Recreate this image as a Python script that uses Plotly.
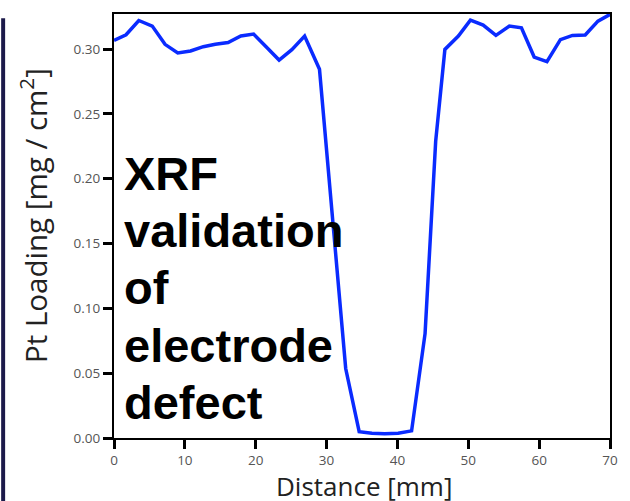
import plotly.graph_objects as go

distance_mm = [0.0, 1.7, 3.5, 5.4, 7.2, 9.0, 10.8, 12.6, 14.3, 16.1, 17.9, 19.7,
               21.5, 23.3, 25.1, 26.9, 29.0, 32.7, 34.6, 36.4, 38.2, 40.1, 42.0,
               43.9, 45.4, 46.7, 48.6, 50.3, 52.1, 53.9, 55.8, 57.5, 59.3, 61.1,
               63.0, 64.7, 66.5, 68.3, 70.0]
pt_loading = [0.3067, 0.311, 0.322, 0.3177, 0.3036, 0.297, 0.2985, 0.3018, 0.3036,
              0.305, 0.310, 0.3115, 0.3015, 0.2915, 0.2995, 0.310, 0.2844, 0.0536,
              0.0049, 0.0036, 0.0032, 0.0036, 0.0055, 0.0805, 0.229, 0.2997, 0.310,
              0.3223, 0.3185, 0.3105, 0.3177, 0.3164, 0.2938, 0.2903, 0.3072, 0.3105,
              0.3108, 0.3215, 0.3267]

x_ticks = [0, 10, 20, 30, 40, 50, 60, 70]
y_ticks = [0.00, 0.05, 0.10, 0.15, 0.20, 0.25, 0.30]
y_tick_text = ["0.00", "0.05", "0.10", "0.15", "0.20", "0.25", "0.30"]

note_lines = ["XRF", "validation", "of", "electrode", "defect"]
note_line_y = [0.2042, 0.1600, 0.1158, 0.0717, 0.0275]

fig = go.Figure()
fig.add_trace(go.Scatter(x=distance_mm, y=pt_loading, mode="lines",
                         line=dict(color="#0a2bff", width=3.5), showlegend=False))

axis_common = dict(showgrid=False, zeroline=False, showline=True, linecolor="black",
                   linewidth=2, mirror=True, ticks="outside", ticklen=9, tickwidth=2.5,
                   tickcolor="black",
                   tickfont=dict(family="Open Sans", size=13.5, color="#555555"))

fig.update_xaxes(range=[0, 70], tickvals=x_ticks, **axis_common)
fig.update_yaxes(range=[0, 0.327], tickvals=y_ticks, ticktext=y_tick_text, **axis_common)

for line_text, line_y in zip(note_lines, note_line_y):
    fig.add_annotation(text=line_text, xref="paper", yref="y", x=0.016, y=line_y,
                       xanchor="left", yanchor="middle", align="left", showarrow=False,
                       font=dict(family="Liberation Sans", size=47, color="black",
                                 weight="bold"))

fig.add_annotation(text="Pt Loading [mg / cm<sup>2</sup>]", textangle=-90,
                   xref="paper", yref="paper", x=-0.161, y=0.524,
                   xanchor="center", yanchor="middle", showarrow=False,
                   font=dict(family="Open Sans", size=29.5, color="#222222"))

fig.add_annotation(text="Distance [mm]", xref="paper", yref="paper", x=0.505, y=-0.113,
                   xanchor="center", yanchor="middle", showarrow=False,
                   font=dict(family="Open Sans", size=26, color="#222222"))

fig.add_shape(type="rect", xref="paper", yref="paper",
              x0=-0.2275, x1=-0.2195, y0=-0.16, y1=0.99,
              fillcolor="#1c1a4a", line=dict(width=0), layer="below")

fig.update_layout(width=630, height=501, margin=dict(l=114, r=15, t=13, b=63),
                  plot_bgcolor="white", paper_bgcolor="white")

fig.write_html("out.html", config={"displayModeBar": False},
               post_script="document.body.style.margin='0px';")
